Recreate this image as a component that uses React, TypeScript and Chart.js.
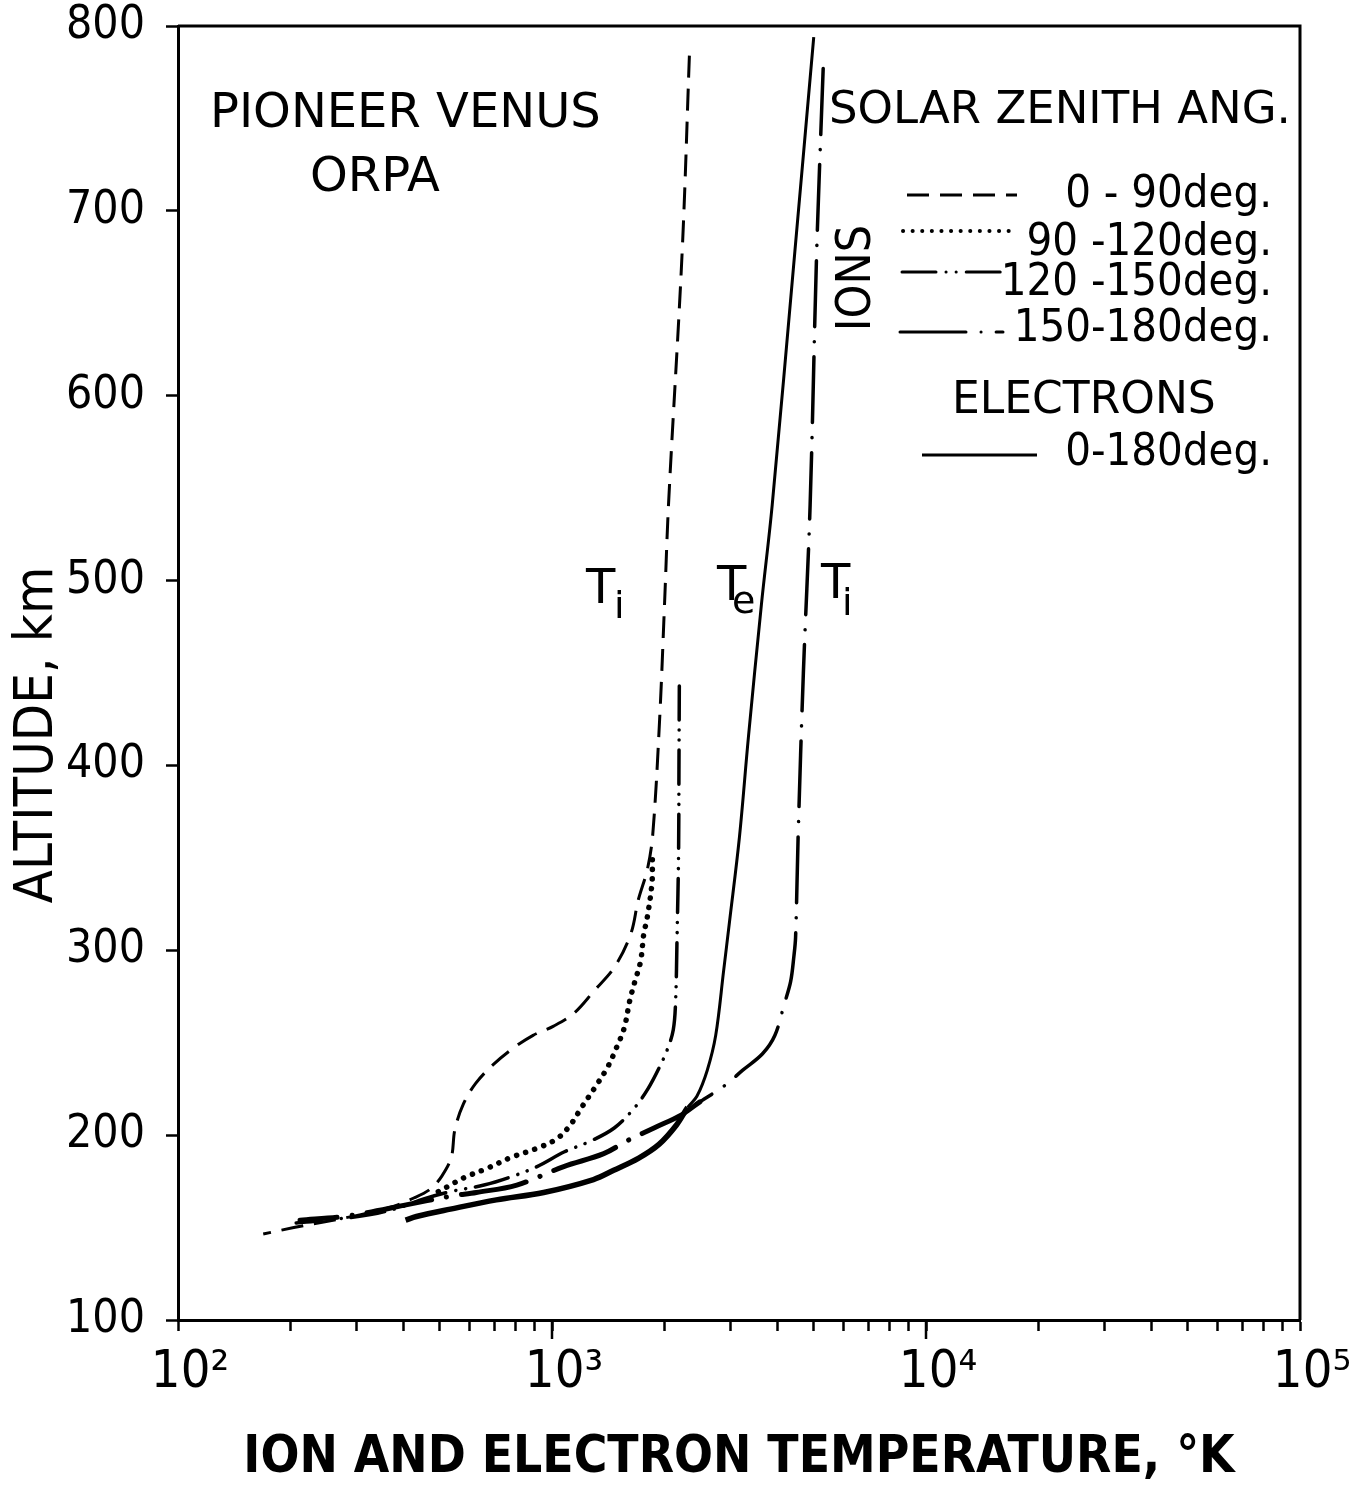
import { useEffect, useRef } from "react";
import { Chart, registerables } from "chart.js";

Chart.register(...registerables);

// ---- data (temperature in K, altitude in km) ----
const ION_0_90_T = [2330, 2230, 2050, 2000, 1940, 1860, 1800, 1700, 1625, 1470, 1295, 1145, 1010, 890, 787, 695, 625, 580, 550, 538, 508, 474, 427, 370, 308, 245, 204, 169];
const ION_0_90_ALT = [784, 679, 542, 488, 425, 363, 344, 327, 309, 291, 278, 266, 259, 254, 247, 238, 228, 217, 203, 188, 178, 171, 166, 161, 157, 153, 150, 146.5];

const ION_90_120_T = [1855, 1850, 1795, 1760, 1725, 1665, 1615, 1560, 1485, 1410, 1305, 1200, 1115, 1030, 915, 778, 670, 582, 524, 483];
const ION_90_120_ALT = [349, 336, 317, 309, 294, 283, 273, 258, 247, 237, 226, 215, 205, 198, 193, 188, 182, 177, 172, 168];

const ION_120_150_T = [2190, 2185, 2180, 2160, 2140, 2110, 2040, 1930, 1805, 1665, 1470, 1275, 1080, 912, 791, 658, 536, 454, 394, 327, 249, 207];
const ION_120_150_ALT = [443, 398, 353, 308, 272, 257, 247, 236, 225, 215, 204, 197, 191, 183, 178, 173, 169.5, 165.5, 161, 157, 154, 152.5];

const ION_150_180_T = [5310, 5100, 4900, 4700, 4550, 4480, 4435, 4345, 4180, 3945, 3655, 3230, 2905, 2485, 2220, 1880, 1590, 1375, 1075, 805, 628, 536, 401, 319, 277, 212];
const ION_150_180_ALT = [777, 677, 541, 450, 361, 307, 297, 283, 271, 254, 244, 235, 227, 218, 211, 204, 197, 190, 183, 173, 169, 167, 162, 158, 156, 154];

const ELECTRON_T = [5010, 4460, 3880, 3630, 3350, 3170, 2985, 2877, 2740, 2600, 2440, 2306, 2152, 1932, 1706, 1462, 1291, 950, 710, 535, 434, 406];
const ELECTRON_ALT = [794, 678, 541, 487, 415, 361, 316, 289, 254, 235, 221, 215, 205.5, 195, 187.6, 181, 176, 169, 165, 160, 156, 154];

const SERIES_LABELS = ["0 - 90deg.", "90 -120deg.", "120 -150deg.", "150-180deg.", "0-180deg."];

const X_DECADES = [100, 1000, 10000, 100000];
const X_DECADE_LABELS = ["10²", "10³", "10⁴", "10⁵"];
const X_MINOR_MULTIPLIERS = [2, 3, 4, 5, 6, 7, 8, 9];
const Y_TICKS = [100, 200, 300, 400, 500, 600, 700, 800];

const FONT = "'DejaVu Sans', sans-serif";
const FONT_C = "'DejaVu Sans Condensed', 'DejaVu Sans', sans-serif";

const pts = (T: number[], A: number[]) => T.map((t, i) => ({ x: t, y: A[i] }));

function buildXTicks() {
  const out: number[] = [];
  for (let d = 0; d < X_DECADES.length - 1; d++) {
    out.push(X_DECADES[d]);
    for (const m of X_MINOR_MULTIPLIERS) out.push(m * X_DECADES[d]);
  }
  out.push(X_DECADES[X_DECADES.length - 1]);
  return out;
}

const framePlugin = {
  id: "frame",
  afterDraw(chart: any) {
    const { ctx, chartArea: a } = chart;
    const xs = chart.scales.x;
    ctx.save();
    ctx.strokeStyle = "#000";
    ctx.lineWidth = 3;
    ctx.beginPath();
    ctx.moveTo(a.left, a.top);
    ctx.lineTo(a.right, a.top);
    ctx.lineTo(a.right, a.bottom);
    ctx.stroke();
    // longer decade ticks
    ctx.lineWidth = 2.5;
    for (const v of X_DECADES.slice(1, 3)) {
      const px = xs.getPixelForValue(v);
      ctx.beginPath();
      ctx.moveTo(px, a.bottom);
      ctx.lineTo(px, a.bottom + 19);
      ctx.stroke();
    }
    ctx.restore();
  },
};

const textPlugin = {
  id: "texts",
  afterDraw(chart: any) {
    const ctx = chart.ctx as CanvasRenderingContext2D;
    ctx.save();
    ctx.fillStyle = "#000";
    ctx.strokeStyle = "#000";

    // y axis title
    ctx.save();
    ctx.translate(38, 735);
    ctx.rotate(-Math.PI / 2);
    ctx.font = `54px ${FONT_C}`;
    ctx.textAlign = "center";
    ctx.textBaseline = "middle";
    ctx.fillText("ALTITUDE, km", 0, 0);
    ctx.restore();

    ctx.textBaseline = "middle";
    ctx.textAlign = "left";
    ctx.font = `48px ${FONT}`;
    ctx.fillText("PIONEER VENUS", 210, 115);
    ctx.fillText("ORPA", 310, 179);
    ctx.font = `45px ${FONT}`;
    ctx.fillText("SOLAR ZENITH ANG.", 829, 111);
    ctx.font = `44px ${FONT}`;
    ctx.fillText("ELECTRONS", 952, 402);

    // IONS rotated
    ctx.save();
    ctx.translate(858, 278);
    ctx.rotate(-Math.PI / 2);
    ctx.font = `48px ${FONT_C}`;
    ctx.textAlign = "center";
    ctx.fillText("IONS", 0, 0);
    ctx.restore();

    // legend rows
    const rowsText = [195, 243, 283, 329, 453];
    const rowsLine = [
      { y: 195, x0: 907, x1: 1017 },
      { y: 231, x0: 903, x1: 1010 },
      { y: 272, x0: 902, x1: 1005 },
      { y: 332, x0: 900, x1: 1003 },
      { y: 455, x0: 922, x1: 1037 },
    ];
    const dsets = chart.data.datasets;
    ctx.font = `45px ${FONT_C}`;
    ctx.textAlign = "right";
    for (let i = 0; i < 5; i++) {
      ctx.fillText(SERIES_LABELS[i], 1272, rowsText[i]);
      const ds = dsets[i];
      const r = rowsLine[i];
      ctx.save();
      ctx.setLineDash(ds.borderDash || []);
      ctx.lineCap = ds.borderCapStyle || "butt";
      ctx.lineWidth = i === 1 ? 4 : 3;
      ctx.beginPath();
      ctx.moveTo(r.x0, r.y);
      ctx.lineTo(r.x1, r.y);
      ctx.stroke();
      ctx.restore();
    }

    // curve labels T_i, T_e, T_i
    ctx.textAlign = "left";
    ctx.textBaseline = "alphabetic";
    const tl = [
      { x: 586, y: 603, sub: "i", sx: 614, sy: 618 },
      { x: 717, y: 600, sub: "e", sx: 732, sy: 613 },
      { x: 821, y: 598, sub: "i", sx: 842, sy: 615 },
    ];
    for (const t of tl) {
      ctx.font = `48px ${FONT}`;
      ctx.fillText("T", t.x, t.y);
      ctx.font = `38px ${FONT}`;
      ctx.fillText(t.sub, t.sx, t.sy);
    }
    ctx.restore();
  },
};

export default function App() {
  const ref = useRef<HTMLCanvasElement>(null);

  useEffect(() => {
    const canvas = ref.current;
    if (!canvas) return;
    const xTicks = buildXTicks();
    const chart = new Chart(canvas, {
      type: "scatter",
      data: {
        datasets: [
          {
            label: SERIES_LABELS[0],
            data: pts(ION_0_90_T, ION_0_90_ALT),
            showLine: true,
            borderColor: "#000",
            borderWidth: 3,
            borderDash: [22, 11],
            borderCapStyle: "butt",
            pointRadius: 0,
            tension: 0.35,
          },
          {
            label: SERIES_LABELS[1],
            data: pts(ION_90_120_T, ION_90_120_ALT),
            showLine: true,
            borderColor: "#000",
            borderWidth: 5.5,
            borderDash: [0.1, 9.5],
            borderCapStyle: "round",
            pointRadius: 0,
            tension: 0.35,
          },
          {
            label: SERIES_LABELS[2],
            data: pts(ION_120_150_T, ION_120_150_ALT),
            showLine: true,
            borderColor: "#000",
            borderWidth: 3.5,
            borderDash: [34, 10, 0.1, 10, 0.1, 10],
            borderCapStyle: "round",
            pointRadius: 0,
            tension: 0.35,
          },
          {
            label: SERIES_LABELS[3],
            data: pts(ION_150_180_T, ION_150_180_ALT),
            showLine: true,
            borderColor: "#000",
            borderWidth: 3.5,
            borderDash: [66, 15, 0.1, 15],
            borderCapStyle: "round",
            pointRadius: 0,
            tension: 0.35,
            segment: { borderWidth: (c: any) => (c.p1.parsed.y < 215 ? 5 : 3.5) },
          },
          {
            label: SERIES_LABELS[4],
            data: pts(ELECTRON_T, ELECTRON_ALT),
            showLine: true,
            borderColor: "#000",
            borderWidth: 3,
            pointRadius: 0,
            tension: 0.35,
            segment: { borderWidth: (c: any) => (c.p1.parsed.y < 214 ? 5.5 : 3) },
          },
        ] as any,
      },
      options: {
        animation: false,
        responsive: false,
        devicePixelRatio: 1,
        layout: { padding: { left: 0, right: 58, top: 26, bottom: 0 } },
        plugins: {
          legend: { display: false },
          tooltip: { enabled: false },
          title: { display: false },
        },
        scales: {
          x: {
            type: "logarithmic",
            min: 100,
            max: 100000,
            position: "bottom",
            afterBuildTicks: (s: any) => {
              s.ticks = xTicks.map((v) => ({ value: v }));
            },
            afterFit: (s: any) => {
              s.height = 183;
              s.paddingLeft = 0;
              s.paddingRight = 0;
            },
            border: { display: true, color: "#000", width: 3 },
            grid: {
              display: true,
              drawOnChartArea: false,
              drawTicks: true,
              tickLength: 11,
              tickWidth: 2.5,
              tickColor: "#000",
            },
            ticks: {
              autoSkip: false,
              maxRotation: 0,
              minRotation: 0,
              padding: 11,
              labelOffset: 12,
              color: "#000",
              font: { family: FONT_C, size: 52 },
              callback: (v: any) => {
                const i = X_DECADES.indexOf(Number(v));
                return i >= 0 ? X_DECADE_LABELS[i] : "";
              },
            },
            title: {
              display: true,
              text: "ION AND ELECTRON TEMPERATURE, °K",
              color: "#000",
              font: { family: FONT_C, size: 51, weight: "bold" },
              padding: { top: 0, bottom: 14 },
            },
          } as any,
          y: {
            type: "linear",
            min: 100,
            max: 800,
            afterBuildTicks: (s: any) => {
              s.ticks = Y_TICKS.map((v) => ({ value: v }));
            },
            afterFit: (s: any) => {
              s.width = 178;
              s.paddingTop = 0;
              s.paddingBottom = 0;
            },
            border: { display: true, color: "#000", width: 3 },
            grid: {
              display: true,
              drawOnChartArea: false,
              drawTicks: true,
              tickLength: 12,
              tickWidth: 2.5,
              tickColor: "#000",
            },
            ticks: {
              padding: 21,
              color: "#000",
              font: { family: FONT_C, size: 46, lineHeight: 1 },
              callback: (v: any) => String(v),
            },
            title: { display: false },
          } as any,
        },
      },
      plugins: [framePlugin, textPlugin],
    });
    return () => chart.destroy();
  }, []);

  return (
    <div style={{ position: "absolute", left: 0, top: 0, width: 1358, height: 1503, background: "#fff" }}>
      <canvas ref={ref} width={1358} height={1503} style={{ display: "block", width: 1358, height: 1503 }} />
    </div>
  );
}
